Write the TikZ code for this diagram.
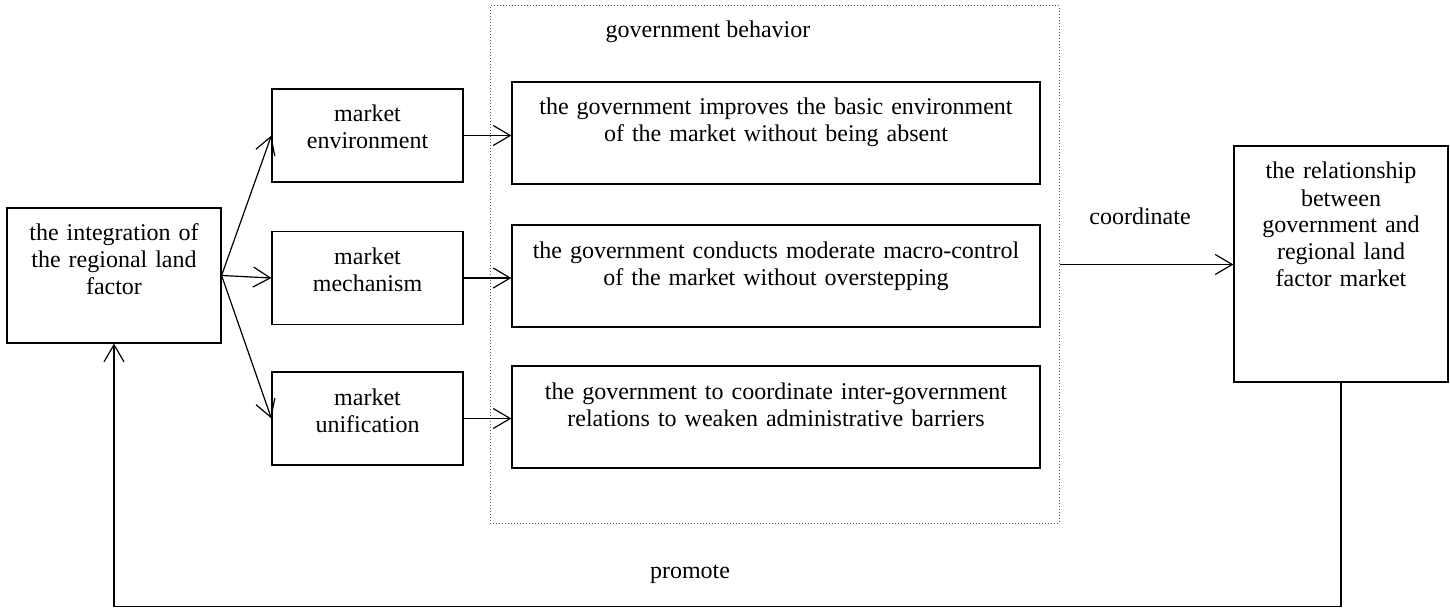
\documentclass[tikz,border=0pt]{standalone}
\usepackage{fontspec}
\setmainfont{Liberation Serif}
\usetikzlibrary{arrows.meta,calc}

\begin{document}
\begin{tikzpicture}
  [x=0.5pt,y=-0.5pt,line width=0.6pt,
   >={Straight Barb[length=8.5pt,width=10pt]},
   txtN/.style={font=\fontsize{12}{13.5}\selectfont},
   blkN/.style={draw,txtN,align=center,inner xsep=3pt,inner ysep=7.5pt,text height=9pt},
   mktN/.style={blkN,text width=89.5pt,text depth=22.5pt},
   govN/.style={blkN,text width=258pt,text depth=27pt},
   endN/.style={blkN,text width=101pt},
   frameN/.style={draw=black!65,densely dotted,line width=0.5pt,minimum width=284.5pt,minimum height=258.5pt,inner sep=0pt},
  ]
  \useasboundingbox (0,0) rectangle (1450,609);

 \node[frameN] (gov)   at (774.5,264.5) {};
 \node[txtN]   (gtit)  at (708,32)  {government behavior};

 \node[endN,text depth=43.5pt] (integ) at (114,275.5) {the integration of\\the regional land\\factor};
 \node[endN,text depth=94pt]   (rel)   at (1341,264)  {the relationship\\between\\government and\\regional land\\factor market};

 \node[mktN] (env)  at (367.5,135.5) {market\\environment};
 \node[mktN] (mech) at (367.5,278)   {market\\mechanism};
 \node[mktN] (unif) at (367.5,418.5) {market\\unification};

 \node[govN] (g1) at (776,133) {the government improves the basic environment\\of the market without being absent};
 \node[govN] (g2) at (776,276) {the government conducts moderate macro-control\\of the market without overstepping};
 \node[govN] (g3) at (776,417) {the government to coordinate inter-government\\relations to weaken administrative barriers};

 \draw[->] (integ.east) -- (env.west);
 \draw[->] (integ.east) -- (mech.west);
 \draw[->] (integ.east) -- (unif.west);

 \draw[->] (env.east)  -- (env.east -| g1.west);
 \draw[->] (mech.east) -- (mech.east -| g2.west);
 \draw[->] (unif.east) -- (unif.east -| g3.west);

 \draw[->] (gov.east) -- (gov.east -| rel.west);
 \node[txtN] (coord) at (1140,216) {coordinate};

 \draw[->] (rel.south) -- ++(0,224) -| (integ.south);
 \node[txtN] (prom) at (690,574) {promote};

\end{tikzpicture}
\end{document}
